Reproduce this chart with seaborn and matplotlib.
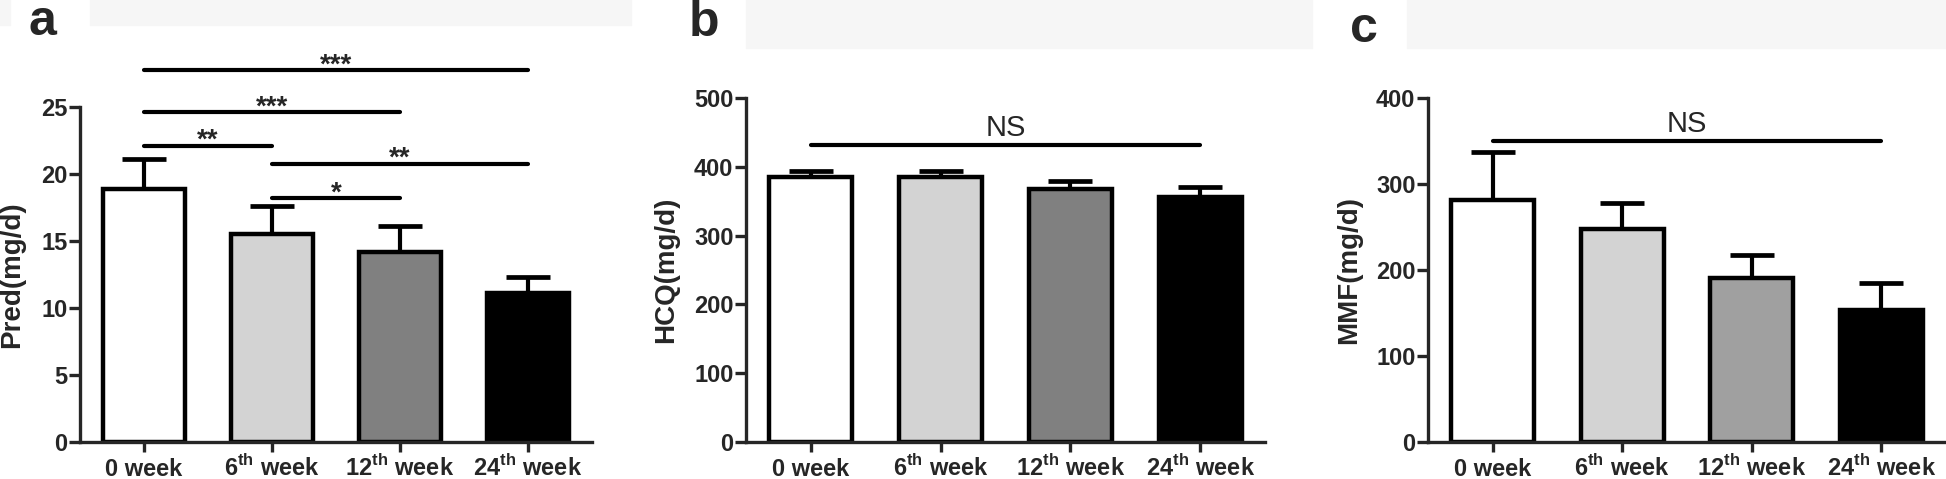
import numpy as np
import matplotlib
matplotlib.use("Agg")
import matplotlib.pyplot as plt
import seaborn as sns
from matplotlib.patches import Rectangle

weeks = ["0 week", "6th week", "12th week", "24th week"]
week_labels = ["0 week", "6$^{\\mathrm{th}}$ week", "12$^{\\mathrm{th}}$ week", "24$^{\\mathrm{th}}$ week"]

pred_mean = [18.9, 15.5, 14.2, 11.1]
pred_err = [2.2, 2.1, 1.95, 1.2]
hcq_mean = [385, 385, 367, 356]
hcq_err = [9, 9, 12, 14]
mmf_mean = [281, 248, 191, 153]
mmf_err = [56, 30, 26, 32]

# (group i, group j, height, label)
pred_sig = [(0, 3, 27.75, "***"), (0, 2, 24.6, "***"), (0, 1, 22.1, "**"),
            (1, 3, 20.75, "**"), (1, 2, 18.2, "*")]
hcq_sig = [(0, 3, 432, "NS")]
mmf_sig = [(0, 3, 350, "NS")]

colors_ab = ["#ffffff", "#d3d3d3", "#808080", "#000000"]
colors_c = ["#ffffff", "#d3d3d3", "#a0a0a0", "#000000"]

sns.set_style("ticks")
plt.rcParams["font.family"] = ["Liberation Sans", "DejaVu Sans"]
plt.rcParams["font.weight"] = "bold"
plt.rcParams["mathtext.fontset"] = "custom"
plt.rcParams["mathtext.rm"] = "Liberation Sans:bold"
plt.rcParams["mathtext.bf"] = "Liberation Sans:bold"

W, H = 1946, 479
fig = plt.figure(figsize=(W / 100, H / 100), dpi=100)

# faint grey strips at the top of each panel
for x0, x1, y1 in [(0, 10, 25), (90, 631, 25), (746, 1312, 48), (1407, 1946, 48)]:
    fig.patches.append(Rectangle((x0 / W, 1 - y1 / H), (x1 - x0) / W, y1 / H,
                                 transform=fig.transFigure, color="#f6f6f6", zorder=0))


def panel(rect, means, errs, colors, ymax, ystep, ylabel, sigs, letter, letter_xy, label_x):
    ax = fig.add_axes(rect)
    sns.barplot(x=weeks, y=means, hue=weeks, palette=colors, legend=False,
                edgecolor="black", linewidth=3.2, width=0.64, errorbar=None, ax=ax, zorder=2)
    ax.errorbar(range(4), means, yerr=[np.zeros(4), errs], fmt="none", ecolor="black",
                elinewidth=3, capsize=16, capthick=3.4, zorder=1)
    ax.set_xlim(-0.5, 3.5)
    ax.set_ylim(0, ymax)
    ax.set_yticks(np.arange(0, ymax + 1e-9, ystep))
    ax.set_xticks(range(4))
    ax.set_xticklabels(week_labels)
    sns.despine(ax=ax)
    for s in ["left", "bottom"]:
        ax.spines[s].set_linewidth(2.4)
    ax.tick_params(axis="y", length=8, width=2.4, pad=1, labelsize=17)
    ax.tick_params(axis="x", length=7, width=2.4, pad=17, labelsize=17)
    for lbl in ax.get_xticklabels():
        lbl.set_va("baseline")
    ax.set_ylabel(ylabel, fontsize=20, fontweight="bold")
    ax.yaxis.set_label_coords(label_x, 0.5)
    ax.set_xlabel("")
    for i, j, y, txt in sigs:
        ax.plot([i, j], [y, y], color="black", lw=3, solid_capstyle="round", clip_on=False)
        if txt == "NS":
            ax.annotate(txt, ((i + j) / 2, y), xytext=(0, 6), textcoords="offset points",
                        ha="center", va="baseline", fontsize=21, fontweight="normal",
                        annotation_clip=False)
        else:
            ax.annotate(txt, ((i + j) / 2, y), xytext=(0, -1.5), textcoords="offset points",
                        ha="center", va="baseline", fontsize=20, fontweight="bold",
                        annotation_clip=False)
    fig.text(letter_xy[0] / W, 1 - letter_xy[1] / H, letter, fontsize=36,
             fontweight="bold", va="baseline")
    return ax


bot = 1 - 442.3 / H
panel([80 / W, bot, 512 / W, (442.3 - 107) / H], pred_mean, pred_err, colors_ab, 25, 5,
      "Pred(mg/d)", pred_sig, "a", (29, 35), -0.107)
panel([746 / W, bot, 519 / W, (442.3 - 97.7) / H], hcq_mean, hcq_err, colors_ab, 500, 100,
      "HCQ(mg/d)", hcq_sig, "b", (689, 36), -0.129)
panel([1428 / W, bot, 518 / W, (442.3 - 97.7) / H], mmf_mean, mmf_err, colors_c, 400, 100,
      "MMF(mg/d)", mmf_sig, "c", (1350, 42), -0.127)

fig.savefig("out.png", dpi=100)
